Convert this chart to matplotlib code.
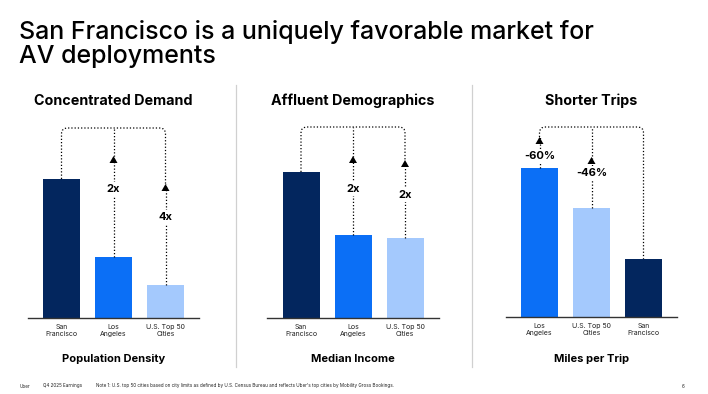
import matplotlib
matplotlib.use("Agg")
import matplotlib.pyplot as plt
from matplotlib.path import Path
from matplotlib.patches import PathPatch, Polygon
from matplotlib.lines import Line2D

plt.rcParams['font.family'] = ['Inter', 'DejaVu Sans']

# ---------------- data ----------------
titles = ["Concentrated Demand", "Affluent Demographics", "Shorter Trips"]
metrics = ["Population Density", "Median Income", "Miles per Trip"]
cats1 = ["San\nFrancisco", "Los\nAngeles", "U.S. Top 50\nCities"]
vals1 = [100, 44, 24]
labels1 = ["", "2x", "4x"]
cats2 = ["San\nFrancisco", "Los\nAngeles", "U.S. Top 50\nCities"]
vals2 = [100, 57, 55]
labels2 = ["", "2x", "2x"]
cats3 = ["Los\nAngeles", "U.S. Top 50\nCities", "San\nFrancisco"]
vals3 = [100, 73, 39]
labels3 = ["-60%", "-46%", ""]

NAVY = "#03265E"
BLUE = "#0B6FF6"
LIGHT = "#A4C9FD"
colors1 = [NAVY, BLUE, LIGHT]
colors2 = [NAVY, BLUE, LIGHT]
colors3 = [BLUE, LIGHT, NAVY]

W, H = 708, 394
fig = plt.figure(figsize=(W / 100, H / 100), dpi=100)
fig.patch.set_facecolor("white")

# title
fig.text(19 / W, 1 - 44 / H, "San Francisco is a uniquely favorable market for\nAV deployments",
         fontsize=18, fontweight="medium", color="black", ha="left", va="center", linespacing=1.04)

# dividers
for xd in (236, 472):
    fig.add_artist(Line2D([xd / W, xd / W], [1 - 85 / H, 1 - 367 / H], color="#d0d0d0", lw=0.9))

# footer
fs_foot = 3.3
fig.text(20 / W, 1 - 386 / H, "Uber", fontsize=fs_foot, color="#222222", va="center")
fig.text(43 / W, 1 - 386 / H, "Q4 2025 Earnings", fontsize=fs_foot, color="#222222", va="center")
fig.text(96 / W, 1 - 386 / H,
         "Note 1: U.S. top 50 cities based on city limits as defined by U.S. Census Bureau and reflects Uber's top cities by Mobility Gross Bookings.",
         fontsize=fs_foot, color="#222222", va="center")
fig.text(682 / W, 1 - 386 / H, "6", fontsize=fs_foot, color="#222222", va="center")

panels = [
    dict(x0=28, x1=199, base=318, cats=cats1, vals=vals1, cols=colors1, labels=labels1,
         src=0, bracket=128, tips={1: (156, 189), 2: (184, 217)}),
    dict(x0=267, x1=439, base=318, cats=cats2, vals=vals2, cols=colors2, labels=labels2,
         src=0, bracket=127, tips={1: (156, 189), 2: (160, 195)}),
    dict(x0=506, x1=677, base=317, cats=cats3, vals=vals3, cols=colors3, labels=labels3,
         src=2, bracket=127, tips={0: (137, 156), 1: (157, 173)}),
]
bar_tops_px = [179, 172, 168]
TOP = 120  # pixel y of axes top

for i, p in enumerate(panels):
    ax_h = p["base"] - TOP
    ax_w = p["x1"] - p["x0"]
    ax = fig.add_axes([p["x0"] / W, 1 - p["base"] / H, ax_w / W, ax_h / H])
    ax.set_facecolor("none")
    n = len(p["vals"])
    spacing = 52.0  # px per category
    half = ax_w / 2 / spacing
    ax.set_xlim(1 - half, 1 + half)
    vmax = max(p["vals"])
    hmax = p["base"] - bar_tops_px[i]
    ax.set_ylim(0, vmax * ax_h / hmax)
    xs = list(range(n))
    ax.bar(xs, p["vals"], width=37 / spacing, color=p["cols"], zorder=2)
    for s in ("top", "right", "left"):
        ax.spines[s].set_visible(False)
    ax.spines["bottom"].set_color("#333333")
    ax.spines["bottom"].set_linewidth(1.0)
    ax.set_yticks([])
    ax.set_xticks(xs)
    ax.set_xticklabels(p["cats"], fontsize=5, color="#222222", linespacing=1.25)
    ax.tick_params(axis="x", length=0, pad=4)

    ylim = ax.get_ylim()[1]
    xmin, xmax = ax.get_xlim()

    def fx(x):
        return (x - xmin) / (xmax - xmin)

    def fy_px(py):
        return (p["base"] - py) / ax_h

    def fy_val(v):
        return v / ylim

    dot = dict(color="black", lw=0.9, linestyle=(0, (1, 1.6)), transform=ax.transAxes, zorder=3)
    by = fy_px(p["bracket"])
    rx, ry = 6 / ax_w, 6 / ax_h
    src = p["src"]
    targets = sorted(p["tips"].keys())
    ends = [src] + targets
    left_i, right_i = min(ends), max(ends)
    xl, xr = fx(left_i), fx(right_i)
    yl0 = fy_val(p["vals"][left_i]) if left_i == src else fy_px(p["tips"][left_i][0])
    yr0 = fy_val(p["vals"][right_i]) if right_i == src else fy_px(p["tips"][right_i][0])
    verts = [(xl, yl0), (xl, by - ry), (xl, by), (xl + rx, by), (xr - rx, by), (xr, by), (xr, by - ry), (xr, yr0)]
    codes = [Path.MOVETO, Path.LINETO, Path.CURVE3, Path.CURVE3, Path.LINETO, Path.CURVE3, Path.CURVE3, Path.LINETO]
    ax.add_patch(PathPatch(Path(verts, codes), fill=False, edgecolor="black", lw=0.9,
                           linestyle=(0, (1, 1.6)), transform=ax.transAxes, zorder=3))
    for t in targets:
        tip, lab = p["tips"][t]
        xt = fx(t)
        top_y = by if t not in (left_i, right_i) else fy_px(tip)
        ax.add_line(Line2D([xt, xt], [fy_val(p["vals"][t]), top_y], **dot))
        ty = fy_px(tip)
        aw, ah = 4 / ax_w, 7 / ax_h
        ax.add_patch(Polygon([(xt - aw, ty - ah), (xt + aw, ty - ah), (xt, ty)], closed=True,
                             facecolor="black", edgecolor="none", transform=ax.transAxes, zorder=4))
        ax.text(xt, fy_px(lab), p["labels"][t], transform=ax.transAxes, ha="center", va="center",
                fontsize=8, fontweight="bold", color="black", zorder=5,
                bbox=dict(facecolor="white", edgecolor="none", pad=1.5))

    cx = (p["x0"] + p["x1"]) / 2 / W
    fig.text(cx, 1 - 101 / H, titles[i], fontsize=10.3, fontweight="bold", ha="center", va="center")
    fig.text(cx, 1 - 359 / H, metrics[i], fontsize=8, fontweight="bold", ha="center", va="center")

fig.savefig("out.png", dpi=100, facecolor="white")
